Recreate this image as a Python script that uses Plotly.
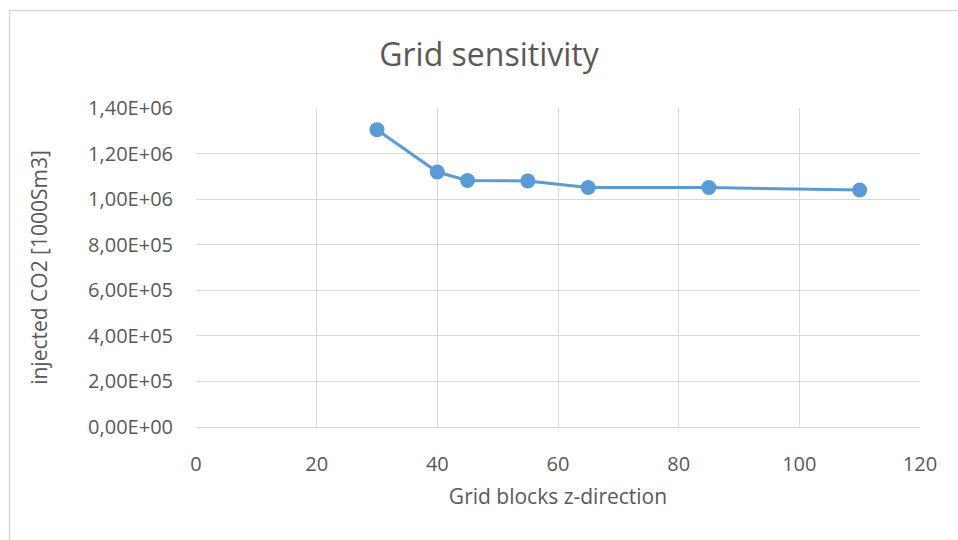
import plotly.graph_objects as go

grid_blocks = [30, 40, 45, 55, 65, 85, 110]
injected_co2 = [1.305e6, 1.119e6, 1.082e6, 1.080e6, 1.051e6, 1.051e6, 1.040e6]

y_tickvals = [0, 2e5, 4e5, 6e5, 8e5, 1e6, 1.2e6, 1.4e6]
y_ticktext = ["0,00E+00", "2,00E+05", "4,00E+05", "6,00E+05", "8,00E+05",
              "1,00E+06", "1,20E+06", "1,40E+06"]
x_tickvals = [0, 20, 40, 60, 80, 100, 120]

W, H = 958, 540
L, R, T, B = 196, 38, 108, 113
pw, ph = W - L - R, H - T - B

font_family = "Open Sans, Liberation Sans, sans-serif"
txt = "#595959"
grid = "#d9d9d9"

fig = go.Figure()
fig.add_trace(go.Scatter(
    x=grid_blocks, y=injected_co2, mode="lines+markers",
    line=dict(color="#5b9bd5", width=3),
    marker=dict(color="#5b9bd5", size=15),
    showlegend=False, cliponaxis=False,
))

fig.update_layout(
    width=W, height=H,
    margin=dict(l=L, r=R, t=T, b=B),
    paper_bgcolor="white", plot_bgcolor="white",
    font=dict(family=font_family, color=txt, size=20),
    title=dict(text="Grid sensitivity", x=489 / W, xanchor="center",
               y=1 - 55 / H, yanchor="middle",
               font=dict(size=32, color=txt, family=font_family)),
    xaxis=dict(range=[0, 120], tickvals=x_tickvals, showgrid=True,
               gridcolor=grid, gridwidth=1, zeroline=False,
               showline=True, linecolor=grid, linewidth=1, mirror=False,
               ticks="", ticklabelstandoff=19, tickfont=dict(size=20, color=txt),
               title=dict(text="Grid blocks z-direction", standoff=13,
                          font=dict(size=21, color=txt))),
    yaxis=dict(range=[0, 1.4e6], tickvals=y_tickvals, ticktext=y_ticktext,
               showgrid=True, gridcolor=grid, gridwidth=1, zeroline=False,
               showline=False, ticks="", ticklabelstandoff=22,
               tickfont=dict(size=20, color=txt),
               title=dict(text="injected CO2 [1000Sm3]", standoff=34,
                          font=dict(size=21, color=txt))),
    shapes=[dict(type="rect", xref="paper", yref="paper",
                 x0=(9.5 - L) / pw, x1=(W + 5 - L) / pw,
                 y0=(H - (H + 5) - B) / ph, y1=(H - 10.5 - B) / ph,
                 line=dict(color=grid, width=1.5), fillcolor="rgba(0,0,0,0)",
                 layer="below")],
)

fig.write_html("out.html")
